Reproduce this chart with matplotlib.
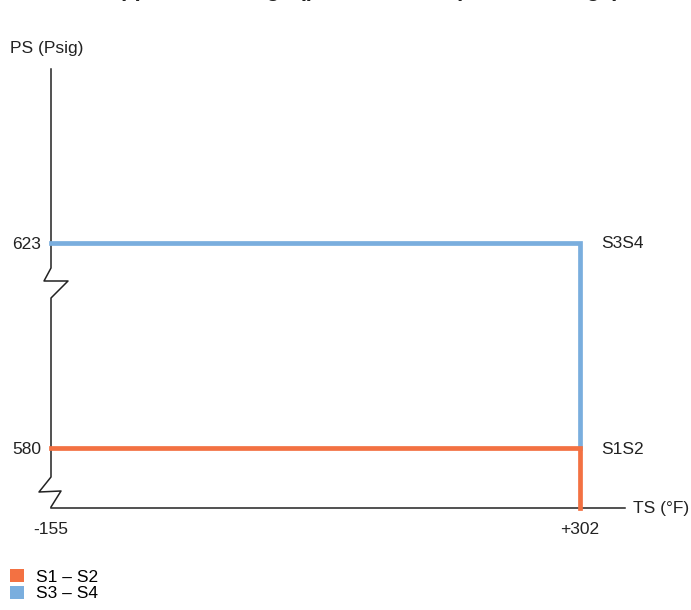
import matplotlib
matplotlib.use("Agg")
import matplotlib.pyplot as plt
from matplotlib.patches import Patch

plt.rcParams['font.family'] = ['Liberation Sans', 'DejaVu Sans']

# data
ts_range = [-155, 302]          # TS (°F)
ps_s1s2 = 580                   # PS (Psig) for S1 - S2
ps_s3s4 = 623                   # PS (Psig) for S3 - S4
tick_x = ['-155', '+302']
tick_y = ['580', '623']
series = ['S1 – S2', 'S3 – S4']
end_labels = ['S1S2', 'S3S4']
colors = ['#F37142', '#7AAEDE']

W, H = 691, 610
fig = plt.figure(figsize=(W / 100, H / 100), dpi=100)

# axes box in pixels
ax_l, ax_r, ax_t, ax_b = 51, 625, 69, 508
ax = fig.add_axes([ax_l / W, 1 - ax_b / H, (ax_r - ax_l) / W, (ax_b - ax_t) / H])
ax.set_xlim(-155, 340.9)
ax.set_ylim(567.5, 659.6)

# blue line (S3-S4): horizontal at 623 then down to 580
ax.plot([ts_range[0], ts_range[1], ts_range[1]], [ps_s3s4, ps_s3s4, ps_s1s2],
        color=colors[1], lw=3.4, solid_joinstyle='miter', clip_on=False, zorder=3)
# orange line (S1-S2): horizontal at 580 then down to the axis
ax.plot([ts_range[0], ts_range[1], ts_range[1]], [ps_s1s2, ps_s1s2, 567.5],
        color=colors[0], lw=3.4, solid_joinstyle='miter', clip_on=False, zorder=4)

ax.annotate(end_labels[1], (ts_range[1], ps_s3s4), xytext=(15, 0), textcoords='offset points',
            va='center', ha='left', fontsize=12.5, color='#222222')
ax.annotate(end_labels[0], (ts_range[1], ps_s1s2), xytext=(15, -1), textcoords='offset points',
            va='center', ha='left', fontsize=12.5, color='#222222')

# ticks
ax.set_xticks(ts_range)
ax.set_xticklabels(tick_x)
ax.set_yticks([ps_s1s2, ps_s3s4])
ax.set_yticklabels(tick_y)
ax.tick_params(length=0, labelsize=12.5, colors='#222222')
ax.tick_params(axis='x', pad=10)
ax.tick_params(axis='y', pad=7)

for s in ['top', 'right', 'left']:
    ax.spines[s].set_visible(False)
ax.spines['bottom'].set_linewidth(1.1)
ax.spines['bottom'].set_color('#222222')

# y axis line drawn by hand with two break marks (pixel points -> axes fraction)
pts = [(51, 69), (51, 268), (44, 281), (68, 281), (51, 298), (51, 477),
       (39, 492), (61, 491), (51, 507)]
xs = [(px - ax_l) / (ax_r - ax_l) for px, py in pts]
ys = [(ax_b - py) / (ax_b - ax_t) for px, py in pts]
ax.plot(xs, ys, transform=ax.transAxes, color='#222222', lw=1.1, clip_on=False)

# axis titles
fig.text(10 / W, 1 - 48 / H, 'PS (Psig)', fontsize=12.5, va='center', ha='left', color='#222222')
fig.text(633 / W, 1 - 508 / H, 'TS (°F)', fontsize=12.5, va='center', ha='left', color='#222222')

# title cut off at the top of the picture (only its lowest strokes show)
fig.text(0.525, 1 + 4 / H, 'Application range (pressure / temperature range)', fontsize=16,
         fontweight='bold', ha='center', va='baseline', color='#222222')

# legend
handles = [Patch(facecolor=c, edgecolor='none') for c in colors]
fig.legend(handles, series, loc='upper left', bbox_to_anchor=(10 / W, 1 - 569 / H),
           frameon=False, fontsize=12.5, handlelength=0.8, handleheight=0.8,
           handletextpad=0.7, labelspacing=0.05, borderpad=0, borderaxespad=0)

fig.savefig('out.png', dpi=100)
